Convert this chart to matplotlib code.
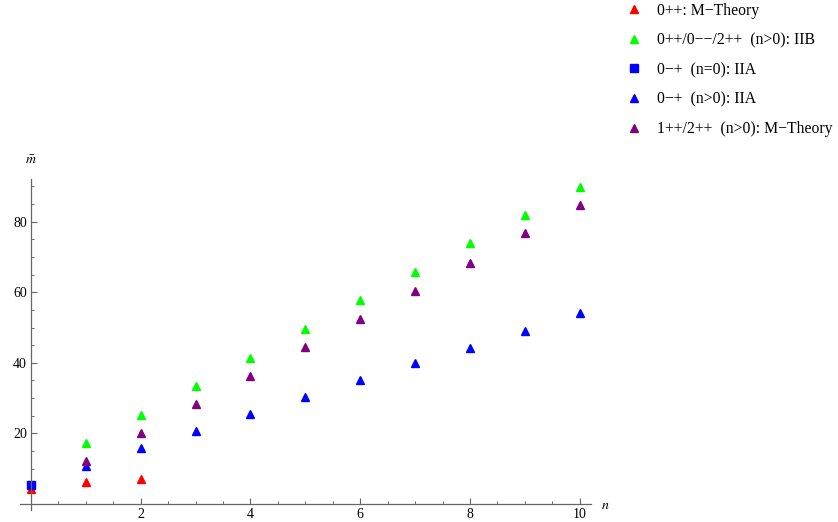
import matplotlib
matplotlib.use("Agg")
import matplotlib.pyplot as plt
from matplotlib.ticker import MultipleLocator, FixedLocator

plt.rcParams['font.family'] = ['Liberation Serif', 'DejaVu Serif']
plt.rcParams['mathtext.fontset'] = 'stix'

# 0++ : M-Theory
n_red = [0, 1, 2]
m_red = [4.2, 6.2, 7.1]

# 0++/0--/2++ (n>0): IIB
n_green = [1, 2, 3, 4, 5, 6, 7, 8, 9, 10]
m_green = [17.2, 25.2, 33.4, 41.5, 49.6, 57.7, 65.6, 73.9, 81.9, 89.9]

# 0-+ (n=0): IIA
n_sq = [0]
m_sq = [5.4]

# 0-+ (n>0): IIA
n_blue = [1, 2, 3, 4, 5, 6, 7, 8, 9, 10]
m_blue = [10.9, 15.8, 20.7, 25.4, 30.3, 35.1, 39.9, 44.3, 49.1, 54.0]

# 1++/2++ (n>0): M-Theory
n_purple = [1, 2, 3, 4, 5, 6, 7, 8, 9, 10]
m_purple = [12.2, 20.0, 28.3, 36.3, 44.5, 52.4, 60.4, 68.4, 76.7, 84.7]

labels = ["0++: M\u2212Theory",
          "0++/0\u2212\u2212/2++  (n>0): IIB",
          "0\u2212+  (n=0): IIA",
          "0\u2212+  (n>0): IIA",
          "1++/2++  (n>0): M\u2212Theory"]

fig = plt.figure(figsize=(8.38, 5.22), dpi=100)
ax = fig.add_axes([0.0239, 0.0222, 0.681, 0.6345])

ms = 6.3
h1, = ax.plot(n_red, m_red, '^', color='red', ms=ms, ls='none')
h2, = ax.plot(n_green, m_green, '^', color=(0, 1, 0), ms=ms, ls='none')
h4, = ax.plot(n_blue, m_blue, '^', color='blue', ms=ms, ls='none')
h5, = ax.plot(n_purple, m_purple, '^', color='purple', ms=ms, ls='none')
h3, = ax.plot(n_sq, m_sq, 's', color='blue', ms=6, ls='none')

ax.set_xlim(-0.2, 10.2)
ax.set_ylim(-1.8, 92)

for s in ['top', 'right']:
    ax.spines[s].set_visible(False)
ax.spines['left'].set_position(('data', 0))
ax.spines['bottom'].set_position(('data', 0))
for s in ['left', 'bottom']:
    ax.spines[s].set_color('#666666')
    ax.spines[s].set_linewidth(0.9)

ax.xaxis.set_major_locator(FixedLocator([2, 4, 6, 8, 10]))
ax.xaxis.set_minor_locator(MultipleLocator(0.5))
ax.yaxis.set_major_locator(FixedLocator([20, 40, 60, 80]))
ax.yaxis.set_minor_locator(MultipleLocator(5))
ax.tick_params(which='both', direction='in', color='#666666', labelsize=10)
ax.tick_params(which='major', length=4, width=0.8)
ax.tick_params(which='minor', length=2.4, width=0.7)
ax.tick_params(axis='x', pad=3)
ax.tick_params(axis='y', pad=3)

fig.text(0.037, 0.693, r'$\bar{m}$', fontsize=10, ha='center', va='center')
fig.text(0.722, 0.032, r'$n$', fontsize=10, ha='center', va='center')

fig.legend([h1, h2, h3, h4, h5], labels, loc='upper left',
           bbox_to_anchor=(0.741, 1.007), frameon=False, fontsize=11.3,
           labelspacing=0.87, handlelength=0.9, handletextpad=1.0,
           borderaxespad=0, markerscale=0.95)

fig.savefig("out.png", dpi=100)
